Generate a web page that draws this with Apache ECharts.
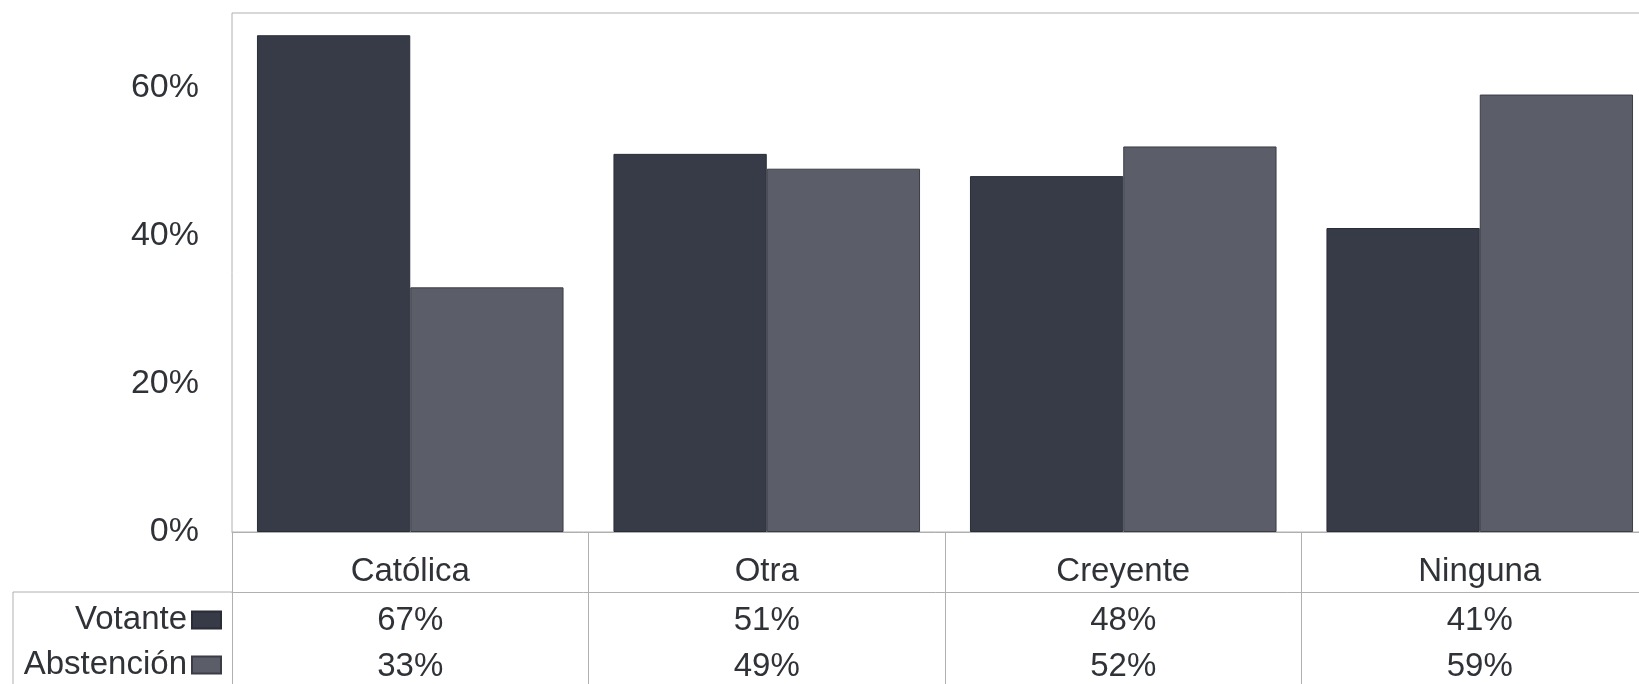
<!DOCTYPE html>
<html>
<head>
<meta charset="utf-8">
<script src="https://cdn.jsdelivr.net/npm/echarts@6/dist/echarts.min.js"></script>
<style>
html,body{margin:0;padding:0;background:#fff;}
#c{width:1639px;height:684px;}
</style>
</head>
<body>
<div id="c"></div>
<script>
const categories = ['Católica', 'Otra', 'Creyente', 'Ninguna'];
const votante = [67, 51, 48, 41];
const abstencion = [33, 49, 52, 59];
const yTicks = [0, 20, 40, 60];

const FONT = "'Liberation Sans', Arial, sans-serif";
const TXT = '#2f3237';
const LINE = '#b0b0b0';
const FS = 33;

function legendFor(name, top) {
  return {
    orient: 'vertical', align: 'right', right: 1417, top: top,
    itemWidth: 29, itemHeight: 17, padding: 0,
    icon: 'rect', selectedMode: false,
    textStyle: {fontSize: FS, lineHeight: 34, color: TXT, fontFamily: FONT},
    data: [name]
  };
}

const chart = echarts.init(document.getElementById('c'), null, {renderer: 'canvas'});
chart.setOption({
  animation: false,
  backgroundColor: '#ffffff',
  textStyle: {fontFamily: FONT},
  grid: {left: 232, top: 13, width: 1426, height: 519, show: true, borderColor: LINE, borderWidth: 1,
    containLabel: false, outerBoundsMode: 'none'},
  legend: [legendFor('Votante', 603), legendFor('Abstención', 648)],
  xAxis: [
    {
      type: 'category', data: categories, position: 'bottom', boundaryGap: true,
      axisLine: {show: true, lineStyle: {color: LINE, width: 1}},
      axisTick: {show: true, length: 152, lineStyle: {color: LINE, width: 1}},
      axisLabel: {fontSize: FS, lineHeight: 34, margin: 23, color: TXT, fontFamily: FONT}
    },
    {
      type: 'category', data: categories, position: 'bottom', offset: 60,
      axisLine: {show: true, lineStyle: {color: LINE, width: 1}},
      axisTick: {show: false},
      axisLabel: {fontSize: FS, lineHeight: 34, margin: 12, color: TXT, fontFamily: FONT,
        formatter: (v, i) => votante[i] + '%'}
    },
    {
      type: 'category', data: categories, position: 'bottom', offset: 60,
      axisLine: {show: false},
      axisTick: {show: false},
      axisLabel: {fontSize: FS, lineHeight: 34, margin: 58, color: TXT, fontFamily: FONT,
        formatter: (v, i) => abstencion[i] + '%'}
    }
  ],
  yAxis: {
    type: 'value', min: 0, max: 70, interval: 20,
    axisLine: {show: false}, axisTick: {show: false}, splitLine: {show: false},
    axisLabel: {fontSize: FS + 1, margin: 33, color: TXT, fontFamily: FONT, showMaxLabel: false,
      formatter: v => (yTicks.indexOf(v) >= 0 ? v + '%' : '')}
  },
  graphic: [
    {type: 'line', shape: {x1: 13, y1: 592, x2: 232, y2: 592}, style: {stroke: LINE, lineWidth: 1}, silent: true},
    {type: 'line', shape: {x1: 13, y1: 592, x2: 13, y2: 684}, style: {stroke: LINE, lineWidth: 1}, silent: true}
  ],
  series: [
    {
      name: 'Votante', type: 'bar', data: votante, xAxisIndex: 0,
      barCategoryGap: '14%', barGap: '0%',
      itemStyle: {color: '#373b48', borderColor: '#2a2d36', borderWidth: 1}
    },
    {
      name: 'Abstención', type: 'bar', data: abstencion, xAxisIndex: 0,
      barCategoryGap: '14%', barGap: '0%',
      itemStyle: {color: '#5b5e68', borderColor: '#3a3d45', borderWidth: 1}
    }
  ]
});
</script>
</body>
</html>
